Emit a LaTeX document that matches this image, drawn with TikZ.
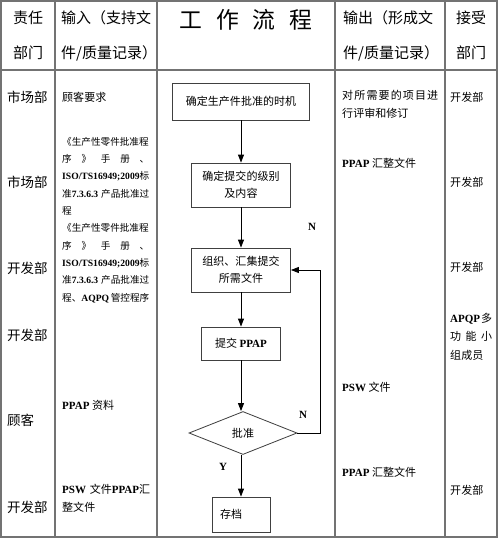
\documentclass[tikz,border=0pt]{standalone}
\usepackage{fontspec}
\setmainfont{Noto Sans CJK SC}
\newfontfamily\latin{Liberation Serif}
\newcommand\latn[1]{{\latin\bfseries #1}}
\newcommand\fillline[1]{\leavevmode\hbox to \linewidth{#1}}
\usetikzlibrary{shapes.geometric, arrows.meta}

\begin{document}
\begin{tikzpicture}[
    x=0.03cm, y=-0.03cm,
    grid/.style={draw=black!55, line width=0.9pt},
    arr/.style={-{Triangle[length=2.4mm, width=1.8mm]}, line width=0.8pt},
    head/.style={font=\fontsize{12.8}{15}\selectfont, inner sep=0pt},
    dept/.style={font=\fontsize{11.5}{14}\selectfont, inner sep=0pt, anchor=west},
    txt/.style={font=\fontsize{9.4}{15.4}\selectfont, inner sep=0pt,
                anchor=west, align=left},
    small/.style={font=\fontsize{8.2}{14.8}\selectfont, inner sep=0pt,
                  anchor=west, align=left, text width=2.61cm},
    stepbox/.style={draw=black!75, line width=0.7pt, align=center,
                    inner sep=0pt, font=\fontsize{9.4}{14.5}\selectfont},
    decision/.style={diamond, draw=black!75, line width=0.7pt, inner sep=0pt,
                     minimum width=3.24cm, minimum height=1.29cm,
                     font=\fontsize{9.4}{14.5}\selectfont},
    flag/.style={font=\latin\bfseries\fontsize{9.4}{12}\selectfont, inner sep=0pt}
  ]
    \useasboundingbox (0,0) rectangle (500,538);

    \draw[grid] (1,1) rectangle (497,537);
    \foreach \x in {55,157,335,445}
      \draw[grid] (\x,1) -- (\x,537);
    \draw[grid] (1,70) -- (497,70);

    \node[head] (deptA) at (28,18) {责任};
    \node[head] (deptB) at (28,53) {部门};
    \node[head, anchor=west] (inA) at (61,18) {输入（支持文};
    \node[head, anchor=west] (inB) at (61,53) {件/质量记录）};
    \node[head, font=\fontsize{19.5}{22}\selectfont]
      (title) at (246,20) {工\hspace{0.6em}作\hspace{0.6em}流\hspace{0.6em}程};
    \node[head, anchor=west] (outA) at (343,18) {输出（形成文};
    \node[head, anchor=west] (outB) at (343,53) {件/质量记录）};
    \node[head] (recvA) at (471,18) {接受};
    \node[head] (recvB) at (471,53) {部门};

    \node[dept] (d1) at (7,97) {市场部};
    \node[dept] (d2) at (7,182) {市场部};
    \node[dept] (d3) at (7,268) {开发部};
    \node[dept] (d4) at (7,335) {开发部};
    \node[dept] (d5) at (7,420) {顾客};
    \node[dept] (d6) at (7,507) {开发部};

    \node[txt] (in1) at (62,97) {顾客要求};
    \node[small] (in2) at (62,220) {%
      《生产性零件批准程\\
      \fillline{序\hfill》\hfill 手\hfill 册\hfill 、}\\
      \fillline{\latn{ISO/TS16949;2009}\hfill 标}\\
      \fillline{准\latn{7.3.6.3}\hfill 产品批准过}\\
      程\\
      《生产性零件批准程\\
      \fillline{序\hfill》\hfill 手\hfill 册\hfill 、}\\
      \fillline{\latn{ISO/TS16949;2009}\hfill 标}\\
      \fillline{准\latn{7.3.6.3}\hfill 产品批准过}\\
      \fillline{程、\latn{AQPQ}\hfill 管控程序}};
    \node[txt] (in3) at (62,405) {\latn{PPAP} 资料};
    \node[txt, text width=2.61cm, font=\fontsize{9.4}{15}\selectfont]
      (in4) at (62,498.5) {\fillline{\latn{PSW} 文件\latn{PPAP}\hfill 汇}\\整文件};

    \node[stepbox, minimum width=4.11cm, minimum height=1.11cm]
      (timing) at (241,101.5) {确定生产件批准的时机};
    \node[stepbox, minimum width=2.97cm, minimum height=1.32cm]
      (level) at (241,185) {确定提交的级别\\及内容};
    \node[stepbox, minimum width=2.97cm, minimum height=1.32cm]
      (collect) at (241,270) {组织、汇集提交\\所需文件};
    \node[stepbox, minimum width=2.37cm, minimum height=0.99cm]
      (submit) at (241,343.5) {提交 \latn{PPAP}};
    \node[decision] (approve) at (243,433) {批准};
    \node[stepbox, text width=1.26cm, inner xsep=0.24cm, align=left,
          minimum height=1.05cm] (archive) at (241,514.5) {存档};

    \node[flag] (noA) at (312,227) {N};
    \node[flag] (noB) at (303,415) {N};
    \node[flag] (yes) at (223,467) {Y};

    \draw[arr] (timing) -- (level);
    \draw[arr] (level) -- (collect);
    \draw[arr] (collect) -- (submit);
    \draw[arr] (submit) -- (submit |- approve.north);
    \draw[arr] (approve.south -| archive) -- (archive);
    \draw[arr] (approve.east) -- ++(23,0) |- (collect.east);

    \node[txt, text width=2.88cm] (out1) at (342,104) {%
      \fillline{对\hfill 所\hfill 需\hfill 要\hfill 的\hfill 项\hfill 目\hfill 进}\\
      行评审和修订};
    \node[txt] (out2) at (342,163) {\latn{PPAP} 汇整文件};
    \node[txt] (out3) at (342,387) {\latn{PSW} 文件};
    \node[txt] (out4) at (342,472) {\latn{PPAP} 汇整文件};

    \node[txt] (r1) at (450,97) {开发部};
    \node[txt] (r2) at (450,182) {开发部};
    \node[txt] (r3) at (450,267) {开发部};
    \node[txt, text width=1.26cm, font=\fontsize{9.4}{15.8}\selectfont]
      (r4) at (450,336.5) {\fillline{\latn{APQP}\hfill 多}\\
      \fillline{功\hfill 能\hfill 小}\\组成员};
    \node[txt] (r5) at (450,490) {开发部};
  \end{tikzpicture}
\end{document}
